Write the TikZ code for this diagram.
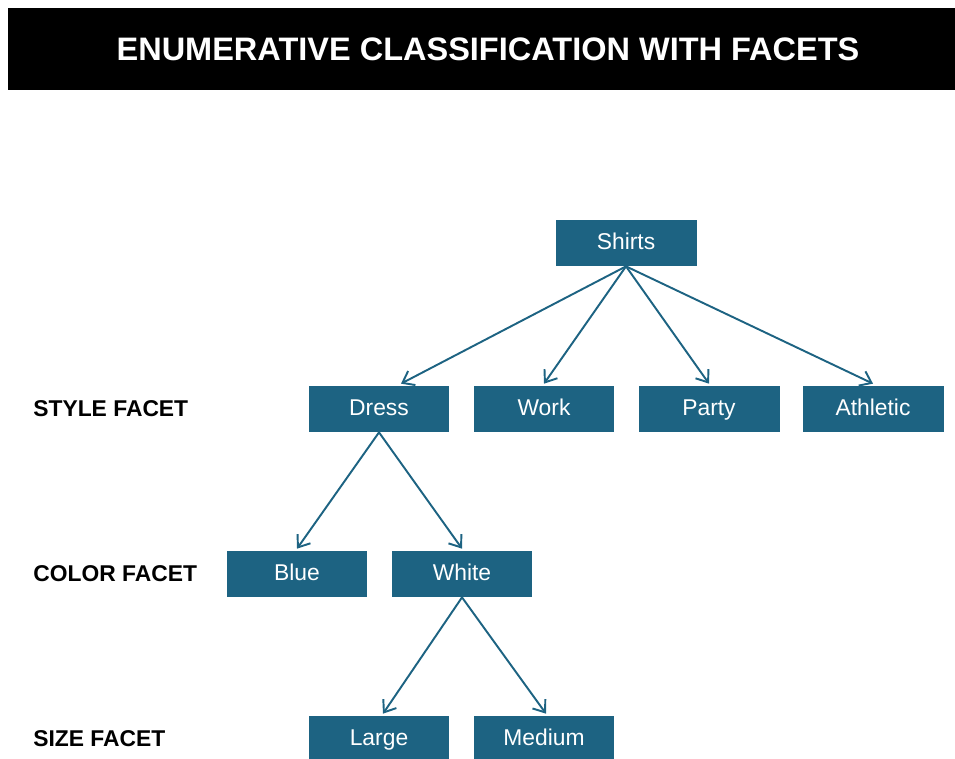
\documentclass[tikz,border=0pt]{standalone}
\usepackage{fontspec}
\setmainfont{Liberation Sans}
\usepackage{tikz}
\usetikzlibrary{arrows.meta,positioning}
\definecolor{facetblue}{RGB}{29,99,130}
\definecolor{titleblack}{RGB}{0,0,0}

\begin{document}
\begin{tikzpicture}[
  x=0.02cm, y=-0.02cm,
  every node/.style={font=\fontsize{13}{15}\selectfont, text centered},
  term/.style={rectangle, minimum width=2.82cm, minimum height=0.92cm, inner sep=0pt, text height=1.38ex, text depth=0pt, fill=facetblue, text=white},
  facet_label/.style={font=\fontsize{13}{15}\selectfont\bfseries, text=black, anchor=west, inner sep=0pt},
  arrow/.style={-{Straight Barb[length=6pt, width=9pt, line width=1.1pt]}, line width=1.1pt, facetblue}
]
\useasboundingbox (0,0) rectangle (955,758);

% Title
\node[rectangle, fill=titleblack, minimum width=18.94cm, minimum height=1.64cm, inner sep=0pt] (titlebar) at (481.5,49) {};
\node[font=\fontsize{18.5}{20}\selectfont\bfseries, text=white] (title) at (488,49) {ENUMERATIVE CLASSIFICATION WITH FACETS};

% Root
\node[term] (shirts) at (626,243) {Shirts};

% Style facet
\node[facet_label] (stylelbl) at (33,409) {STYLE FACET};
\node[term] (dress) at (379,409) {Dress};
\node[term] (work) at (544,409) {Work};
\node[term] (party) at (709,409) {Party};
\node[term] (athletic) at (873,409) {Athletic};

% Color facet
\node[facet_label] (colorlbl) at (33,574) {COLOR FACET};
\node[term] (blue) at (297,574) {Blue};
\node[term] (white) at (462,574) {White};

% Size facet
\node[facet_label] (sizelbl) at (33,739) {SIZE FACET};
\node[term] (large) at (379,739) {Large};
\node[term] (medium) at (544,739) {Medium};

% Arrows
\draw[arrow] (shirts.south) -- ([xshift=0.44cm, yshift=0.04cm]dress.north);
\draw[arrow] (shirts.south) -- ([yshift=0.04cm]work.north);
\draw[arrow] (shirts.south) -- ([yshift=0.04cm]party.north);
\draw[arrow] (shirts.south) -- ([yshift=0.04cm]athletic.north);
\draw[arrow] (dress.south) -- ([yshift=0.04cm]blue.north);
\draw[arrow] (dress.south) -- ([yshift=0.04cm]white.north);
\draw[arrow] (white.south) -- ([xshift=0.08cm, yshift=0.04cm]large.north);
\draw[arrow] (white.south) -- ([xshift=0.04cm, yshift=0.04cm]medium.north);

\end{tikzpicture}
\end{document}
